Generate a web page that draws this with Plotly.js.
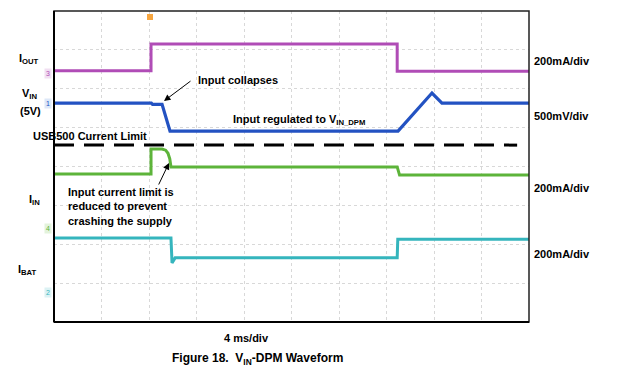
<!DOCTYPE html>
<html>
<head>
<meta charset="utf-8">
<script src="https://cdn.plot.ly/plotly-3.0.1.min.js"></script>
<style>html,body{margin:0;padding:0;background:#fff;}#chart{width:620px;height:376px;}</style>
</head>
<body>
<div id="chart"></div>
<script>
// time in ms (4 ms/div, 10 div), levels in scope divisions (0..8 from bottom)
const ioutT = [0, 8.17, 8.17, 28.9, 28.9, 40];
const ioutV = [6.46, 6.46, 7.15, 7.15, 6.45, 6.45];

const vinT = [0, 8.2, 8.3, 9.1, 9.77, 28.97, 31.83, 32.67, 40];
const vinV = [5.63, 5.63, 5.60, 5.60, 4.91, 4.91, 5.89, 5.63, 5.63];

const iinT = [0, 8.17, 8.17, 9.1, 9.4, 9.6, 9.75, 9.85, 28.9, 29.1, 40];
const iinV = [3.81, 3.81, 4.45, 4.45, 4.42, 4.34, 4.2, 3.99, 3.99, 3.78, 3.78];

const ibatT = [0, 9.85, 9.94, 10.2, 28.9, 28.95, 40];
const ibatV = [2.16, 2.16, 1.52, 1.65, 1.65, 2.13, 2.13];

const limitT = [0, 39];
const limitV = [4.55, 4.55];

const traceColors = {iout: '#b04cb6', vin: '#2352c2', iin: '#5db43a', ibat: '#35b5bd'};

const traces = [
  {x: ioutT, y: ioutV, mode: 'lines', line: {color: traceColors.iout, width: 3}},
  {x: vinT, y: vinV, mode: 'lines', line: {color: traceColors.vin, width: 3.2}},
  {x: iinT, y: iinV, mode: 'lines', line: {color: traceColors.iin, width: 3}},
  {x: ibatT, y: ibatV, mode: 'lines', line: {color: traceColors.ibat, width: 3}},
  {x: limitT, y: limitV, mode: 'lines', line: {color: '#000', width: 3, dash: '20px,10px'}}
];

const bold = {family: 'Arial, Liberation Sans, sans-serif', size: 11, color: '#000'};
function P(x, y) { return {x: (x - 54) / 475, y: (322 - y) / 311}; }
function lab(text, x, y, extra) {
  const p = P(x, y);
  return Object.assign({xref: 'paper', yref: 'paper', x: p.x, y: p.y, text: text, showarrow: false,
    font: bold, xanchor: 'left', yanchor: 'middle'}, extra || {});
}

const annotations = [
  lab('<b>I<sub>OUT</sub></b>', 17, 59),
  lab('<b>V<sub>IN</sub></b>', 20, 94),
  lab('<b>(5V)</b>', 18, 111),
  lab('<b>I<sub>IN</sub></b>', 27, 200),
  lab('<b>I<sub>BAT</sub></b>', 16, 270),
  lab('<b>USB500 Current Limit</b>', 31, 136),
  lab('<b>200mA/div</b>', 532, 61),
  lab('<b>500mV/div</b>', 532, 116),
  lab('<b>200mA/div</b>', 532, 188),
  lab('<b>200mA/div</b>', 532, 254),
  lab('<b>Input collapses</b>', 196, 80),
  lab('<b>Input regulated to V<sub>IN_DPM</sub></b>', 231, 120),
  lab('<b>Input current limit is<br>reduced to prevent<br>crashing the supply</b>', 66, 207, {align: 'left'}),
  lab('<b>4 ms/div</b>', 246, 338, {xanchor: 'center'}),
  lab('<b>Figure 18.  V<sub>IN</sub>-DPM Waveform</b>', 257, 359, {xanchor: 'center', font: {family: 'Arial, Liberation Sans, sans-serif', size: 12, color: '#000'}}),
  // arrows
  Object.assign({xref: 'paper', yref: 'paper', text: '', showarrow: true,
    arrowhead: 2, arrowsize: 1.3, arrowwidth: 1, arrowcolor: '#000', ax: 28, ay: -21}, (function(){const p=P(164,101);return {x:p.x,y:p.y};})()),
  Object.assign({xref: 'paper', yref: 'paper', text: '', showarrow: true,
    arrowhead: 2, arrowsize: 1.3, arrowwidth: 1, arrowcolor: '#000', ax: -11, ay: 23}, (function(){const p=P(169,163);return {x:p.x,y:p.y};})()),
  // channel markers
  lab('1', 44, 103, {font: {family: 'Arial', size: 7, color: traceColors.vin}, bgcolor: '#dde8f8'}),
  lab('4', 44, 228, {font: {family: 'Arial', size: 7, color: traceColors.iin}, bgcolor: '#e3f3dc'}),
  lab('2', 44, 292, {font: {family: 'Arial', size: 7, color: traceColors.ibat}, bgcolor: '#dcf2f4'}),
  lab('3', 44, 73, {font: {family: 'Arial', size: 7, color: traceColors.iout}, bgcolor: '#f1dff2'})
];

const shapes = [
  {type: 'rect', xref: 'paper', yref: 'paper', x0: (147 - 54) / 475, x1: (153 - 54) / 475,
   y0: (322 - 20) / 311, y1: (322 - 14) / 311, fillcolor: '#f7a640', line: {width: 0}},
  {type: 'rect', xref: 'paper', yref: 'paper', x0: 0, x1: 1, y0: 0, y1: 1, line: {color: '#222', width: 1.5}},
  {type: 'line', xref: 'paper', yref: 'paper', x0: 0, x1: 0, y0: 0, y1: 1, line: {color: '#000', width: 2}},
  {type: 'line', xref: 'paper', yref: 'paper', x0: 0, x1: 1, y0: 0, y1: 0, line: {color: '#000', width: 2}}
];

const layout = {
  width: 620, height: 376,
  margin: {l: 54, r: 91, t: 11, b: 54},
  paper_bgcolor: '#fff', plot_bgcolor: '#fff',
  showlegend: false,
  xaxis: {range: [0, 40], dtick: 4, tick0: 0, showticklabels: false, ticks: '', zeroline: false,
          showgrid: true, gridcolor: '#d8d8d8', griddash: 'dot', gridwidth: 1, fixedrange: true},
  yaxis: {range: [0, 8], dtick: 1, tick0: 0, showticklabels: false, ticks: '', zeroline: false,
          showgrid: true, gridcolor: '#d8d8d8', griddash: 'dot', gridwidth: 1, fixedrange: true},
  annotations: annotations,
  shapes: shapes
};

Plotly.newPlot('chart', traces, layout, {displayModeBar: false, staticPlot: true});
</script>
</body>
</html>
